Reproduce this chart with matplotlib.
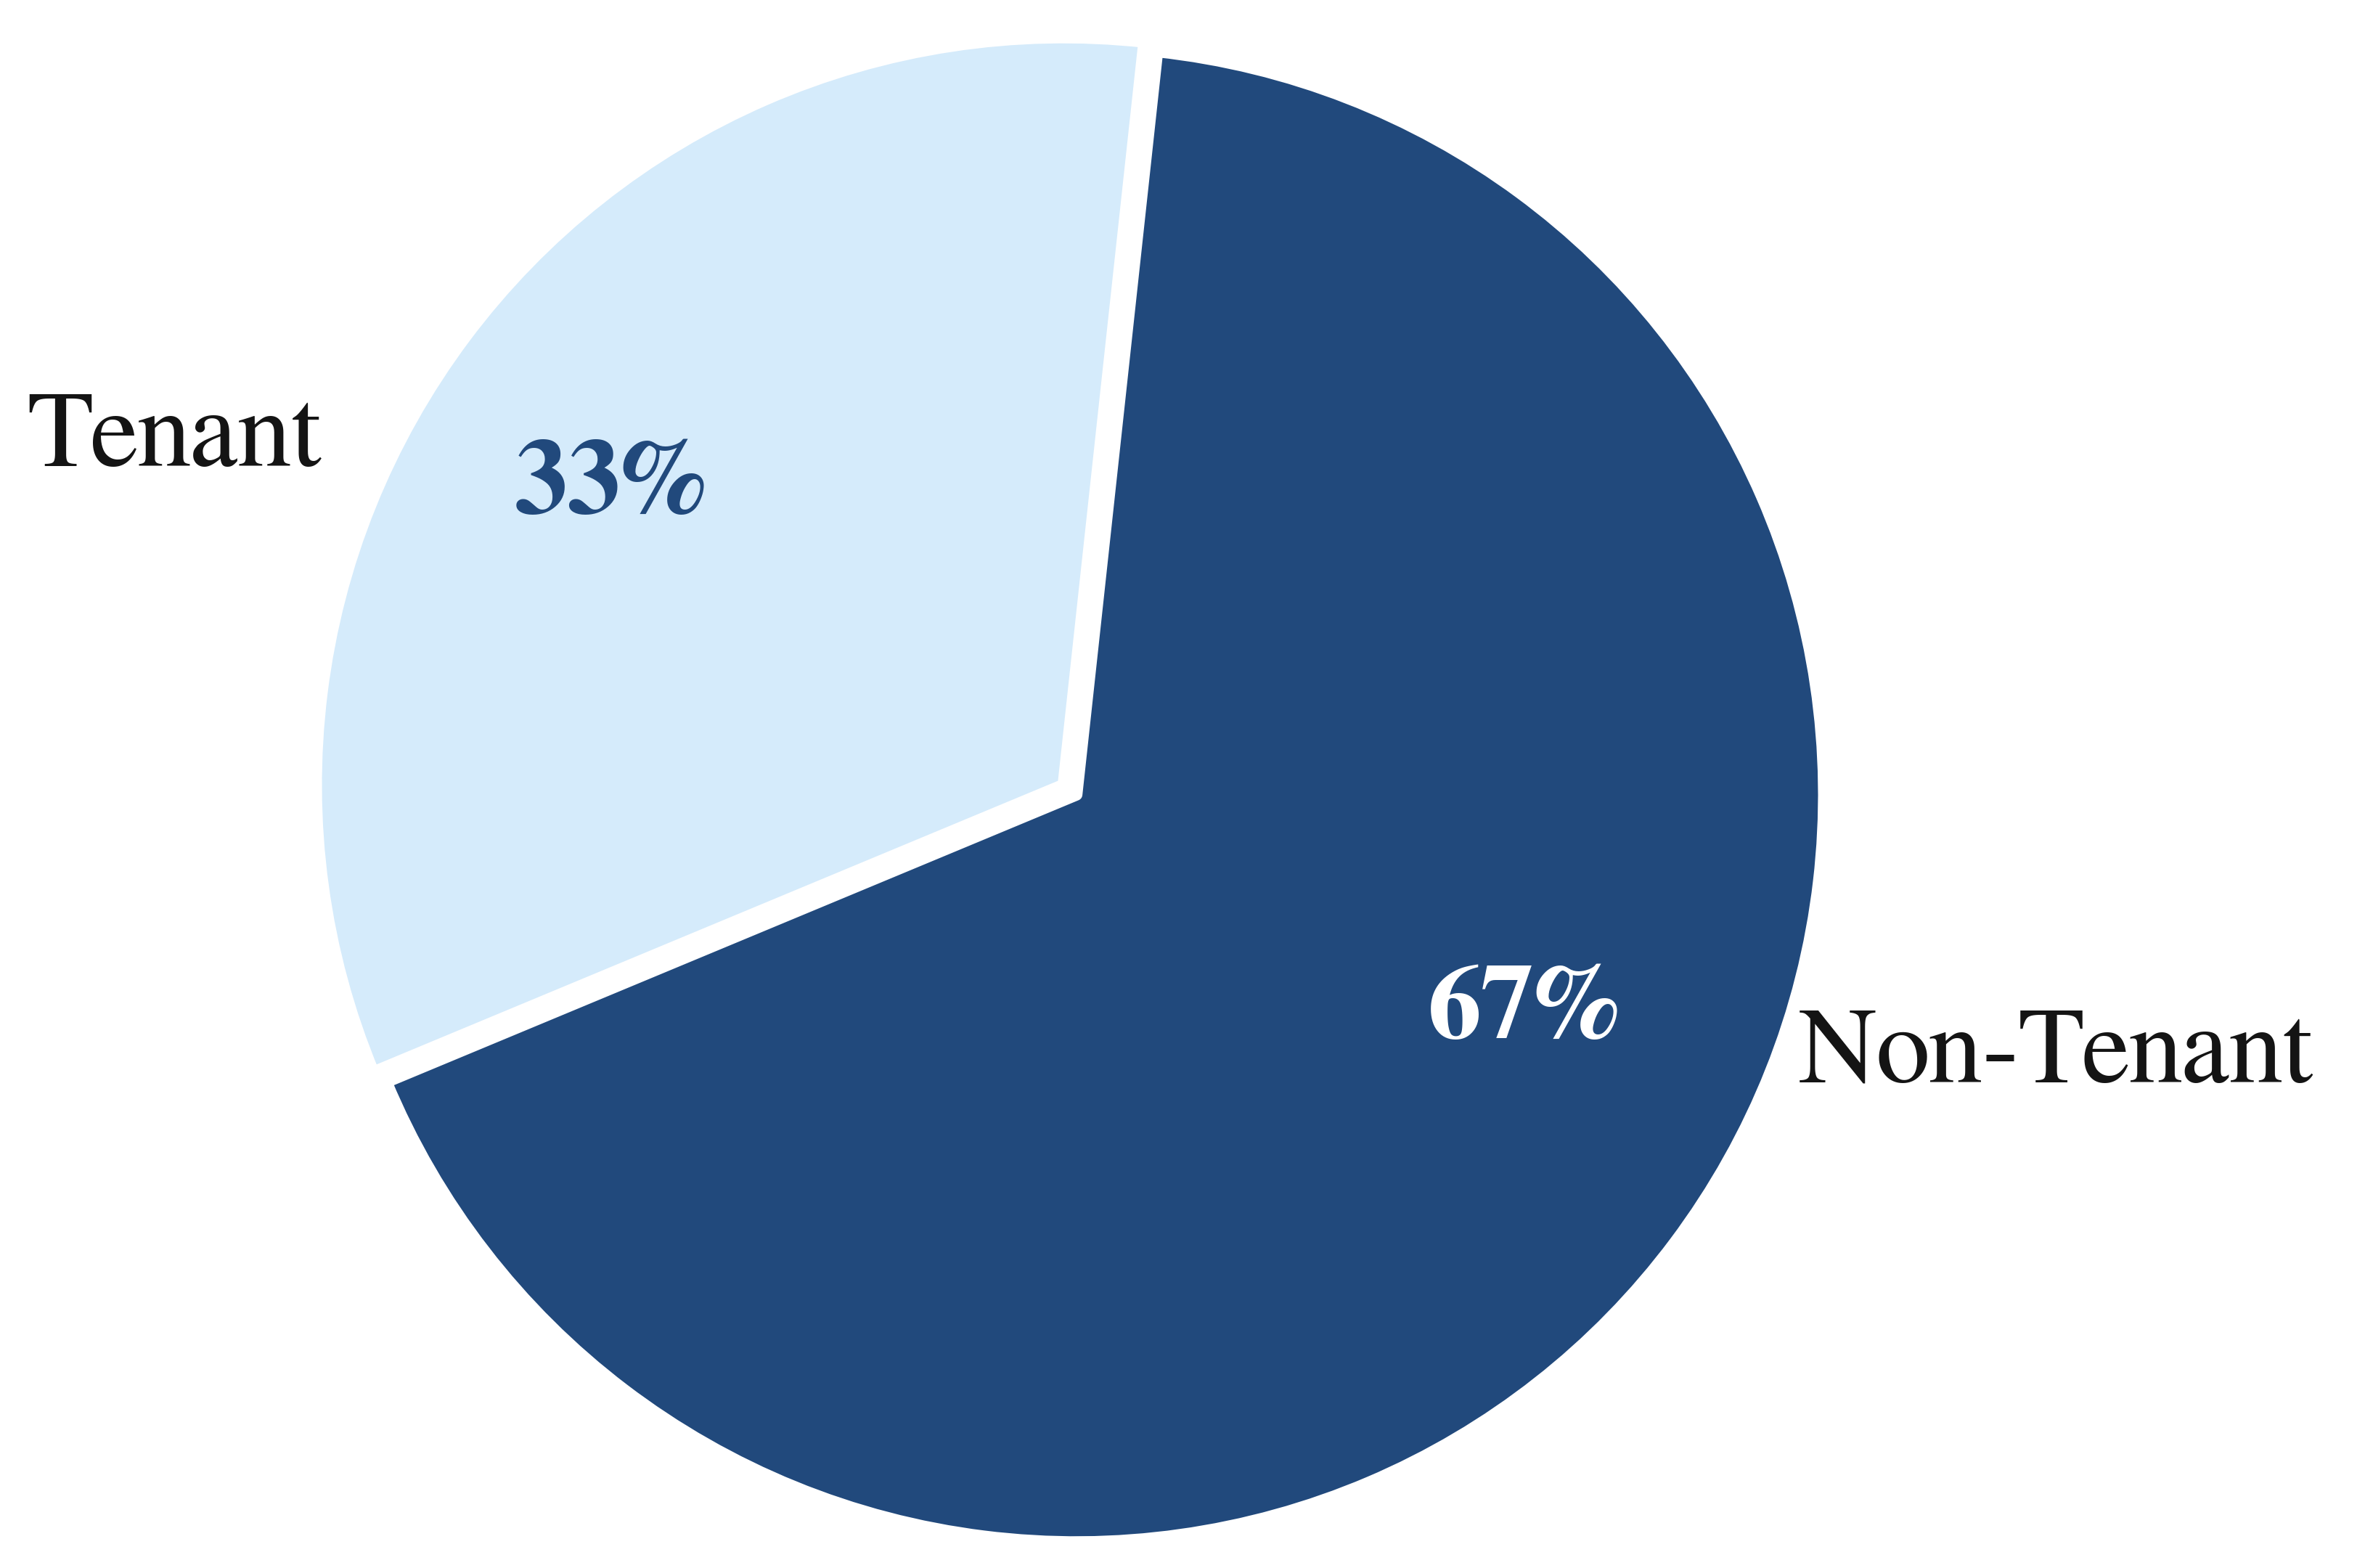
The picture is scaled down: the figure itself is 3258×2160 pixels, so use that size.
import matplotlib.pyplot as plt

# Pie data: share of tenant vs non-tenant
categories = ["Tenant", "Non-Tenant"]
shares = [33, 67]
pct_labels = ["33%", "67%"]

slice_colors = ["#D5EBFB", "#21497C"]
pct_colors = ["#21497C", "#FFFFFF"]

W, H = 3258, 2160
fig = plt.figure(figsize=(W / 200, H / 200), dpi=200)
ax = fig.add_axes([0, 0, 1, 1])

# explode is in data units here (the axes is laid out in pixels)
wedges, _ = ax.pie(shares, colors=slice_colors, startangle=83.8,
                   radius=1030, center=(1474, 1072),
                   explode=[11, 11],
                   wedgeprops=dict(edgecolor="white", linewidth=6,
                                   joinstyle="round"))

# pie() resets the limits, so put the pixel-sized frame back afterwards
ax.set_xlim(0, W)
ax.set_ylim(0, H)
ax.set_aspect("equal")
ax.axis("off")

serif = ["FreeSerif", "STIXGeneral", "DejaVu Serif"]

# Percentage labels inside the slices
pct_pos = [(841, 1453), (2099, 730)]
for text, col, (x, y) in zip(pct_labels, pct_colors, pct_pos):
    ax.text(x, y, text, ha="center", va="baseline", fontsize=53,
            fontweight="bold", color=col, family=serif)

# Category names outside the pie
name_pos = [(37, 1518), (2477, 669)]
for name, (x, y) in zip(categories, name_pos):
    ax.text(x, y, name, ha="left", va="baseline", fontsize=54,
            color="#141414", family=serif)

fig.savefig("out.png", dpi=200, facecolor="white")
